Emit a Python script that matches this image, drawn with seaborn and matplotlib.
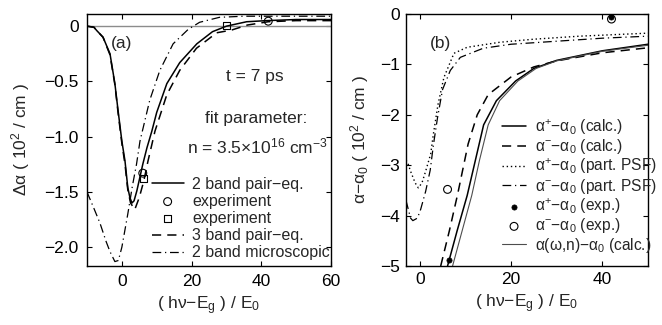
import matplotlib
matplotlib.use('Agg')
import matplotlib.pyplot as plt
import numpy as np
import seaborn as sns

# ---- panel (a) data ----
x_2band = [-10, -8, -7.2, -5.4, -3.4, -2, -1.1, 0, 0.9, 1.7, 2.3, 2.9, 3.5, 4.3, 6,
           7.2, 8.6, 10, 12.9, 16.6, 21.5, 26, 30, 35.8, 41.5, 50, 60]
y_2band = [0, -0.01, -0.04, -0.1, -0.25, -0.52, -0.76, -1.04, -1.22, -1.46, -1.55, -1.6,
           -1.58, -1.49, -1.25, -1.1, -0.95, -0.78, -0.52, -0.33, -0.16, -0.05, 0.0,
           0.04, 0.05, 0.06, 0.06]
x_3band = [-10, -8, -7.2, -5.4, -3.4, -2, -1.1, 0, 0.9, 1.7, 2.5, 3.7, 5, 6.3, 7.5,
           9.5, 12.9, 16.6, 21.4, 27.2, 31.5, 36, 42, 50, 60]
y_3band = [0, -0.01, -0.04, -0.1, -0.26, -0.53, -0.78, -1.06, -1.25, -1.48, -1.6, -1.66,
           -1.55, -1.4, -1.22, -0.95, -0.62, -0.4, -0.2, -0.06, -0.035, 0.01, 0.04,
           0.05, 0.05]
x_micro = [-10, -8, -6.3, -4.5, -3.4, -2, -1, 0, 1.7, 3, 4.2, 5.2, 8, 10.9, 14.7,
           19, 22.3, 28, 35, 45, 60]
y_micro = [-1.5, -1.65, -1.78, -1.95, -2.04, -2.13, -2.12, -2.0, -1.7, -1.45, -1.25,
           -1.04, -0.67, -0.4, -0.16, -0.03, 0.035, 0.08, 0.09, 0.09, 0.09]
x_exp_circ = [6, 42]
y_exp_circ = [-1.33, 0.045]
x_exp_sq = [6.2, 30]
y_exp_sq = [-1.38, 0.01]

# ---- panel (b) data ----
x_plus = [6.1, 8.2, 10.4, 12.2, 14, 16.8, 21, 25, 30, 40, 50]
y_plus = [-5.0, -4.3, -3.6, -2.9, -2.2, -1.72, -1.33, -1.08, -0.92, -0.73, -0.6]
x_minus = [4.6, 6.5, 8.3, 10.6, 12.6, 15, 20, 25, 30, 40, 50]
y_minus = [-5.0, -4.3, -3.58, -2.58, -2.0, -1.6, -1.25, -1.05, -0.93, -0.77, -0.67]
x_full = [7.2, 9.3, 11.4, 13.1, 15, 17.5, 21.5, 25.5, 30, 40, 50]
y_full = [-5.0, -4.3, -3.6, -2.9, -2.2, -1.72, -1.33, -1.08, -0.93, -0.74, -0.62]
x_plus_psf = [-3, -2.6, -2, -1, -0.3, 0.5, 1.3, 2.4, 3, 4, 5.3, 7.5, 10.4, 17.6, 25, 35, 50]
y_plus_psf = [-2.9, -2.96, -3.12, -3.35, -3.45, -3.35, -3.12, -2.78, -2.38, -1.8, -1.26,
              -0.78, -0.66, -0.56, -0.5, -0.44, -0.38]
x_minus_psf = [-3, -2, -1.5, -0.5, 0.2, 1.3, 2.3, 3, 3.9, 5, 6.7, 8.9, 13.9, 20, 30, 40, 50]
y_minus_psf = [-3.7, -4.05, -4.1, -4.05, -3.88, -3.52, -3.1, -2.6, -2.06, -1.5, -1.12,
               -0.86, -0.68, -0.6, -0.54, -0.48, -0.44]
x_exp_plus = [6.5, 42]
y_exp_plus = [-4.88, -0.06]
x_exp_minus = [6.1, 42]
y_exp_minus = [-3.48, -0.1]

FS = 12.5
FS_LEG = 11.5


def style_axes(ax, pad):
    for sp in ax.spines.values():
        sp.set_visible(True)
        sp.set_color('k')
        sp.set_linewidth(1.0)
    ax.tick_params(direction='in', top=True, right=True, length=3.5, width=0.8,
                   labelsize=FS, colors='k', pad=pad)


def main():
    sns.set_style('ticks')
    plt.rcParams['font.family'] = ['Liberation Sans', 'DejaVu Sans']
    plt.rcParams['mathtext.fontset'] = 'custom'
    plt.rcParams['mathtext.rm'] = 'Liberation Sans'
    plt.rcParams['mathtext.it'] = 'Liberation Sans:italic'
    plt.rcParams['mathtext.default'] = 'regular'

    fig = plt.figure(figsize=(6.62, 3.25), dpi=100)
    ax1 = fig.add_axes([87 / 662, 59 / 325, 244 / 662, 252 / 325])
    ax2 = fig.add_axes([406 / 662, 59 / 325, 242 / 662, 252 / 325])

    # ---- (a) ----
    ax1.axhline(0, color='0.55', lw=1.0, zorder=1)
    h = []
    sns.lineplot(x=x_2band, y=y_2band, ax=ax1, color='k', lw=1.1)
    h.append(ax1.lines[-1])
    sns.scatterplot(x=x_exp_circ, y=y_exp_circ, ax=ax1, marker='o', s=32,
                    facecolor='none', edgecolor='k', linewidth=0.8, zorder=5)
    h.append(ax1.collections[-1])
    sns.scatterplot(x=x_exp_sq, y=y_exp_sq, ax=ax1, marker='s', s=26,
                    facecolor='none', edgecolor='k', linewidth=0.8, zorder=5)
    h.append(ax1.collections[-1])
    sns.lineplot(x=x_3band, y=y_3band, ax=ax1, color='k', lw=1.1,
                 linestyle=(0, (6, 4)))
    h.append(ax1.lines[-1])
    sns.lineplot(x=x_micro, y=y_micro, ax=ax1, color='k', lw=0.9,
                 linestyle=(0, (7, 3, 1, 3)))
    h.append(ax1.lines[-1])
    labels_a = ['2 band pair\u2212eq.', 'experiment', 'experiment',
                '3 band pair\u2212eq.', '2 band microscopic']
    ax1.legend(h, labels_a, loc='upper left', bbox_to_anchor=(0.265, 0.355),
               frameon=False, fontsize=FS_LEG, borderpad=0, borderaxespad=0,
               handlelength=2.0, handletextpad=0.55, labelspacing=0.14)

    ax1.set_xlim(-10, 60)
    ax1.set_ylim(-2.17, 0.11)
    ax1.set_xticks([0, 20, 40, 60])
    ax1.set_xticklabels(['0', '20', '40', '60'])
    ax1.set_yticks([0, -0.5, -1.0, -1.5, -2.0])
    ax1.set_yticklabels(['0', '\u22120.5', '\u22121.0', '\u22121.5', '\u22122.0'])
    style_axes(ax1, 6)
    ax1.set_xlabel('( h\u03bd\u2212E$_\\mathrm{g}$ ) / E$_0$', fontsize=FS, labelpad=4)
    ax1.set_ylabel('\u0394\u03b1 ( 10$^2$ / cm )', fontsize=FS, labelpad=8.5)
    ax1.text(0, -0.155, '(a)', fontsize=FS, ha='center', va='center')
    ax1.text(38.1, -0.46, 't = 7 ps', fontsize=FS, ha='center', va='center')
    ax1.text(38.5, -0.84, 'fit parameter:', fontsize=FS, ha='center', va='center')
    ax1.text(39, -1.09, 'n = 3.5\u00d710$^{16}$ cm$^{\u22123}$', fontsize=FS,
             ha='center', va='center')

    # ---- (b) ----
    hb = []
    sns.lineplot(x=x_plus, y=y_plus, ax=ax2, color='k', lw=1.1)
    hb.append(ax2.lines[-1])
    sns.lineplot(x=x_minus, y=y_minus, ax=ax2, color='k', lw=1.1,
                 linestyle=(0, (6, 4)))
    hb.append(ax2.lines[-1])
    sns.lineplot(x=x_plus_psf, y=y_plus_psf, ax=ax2, color='k', lw=1.0,
                 linestyle=(0, (1, 2)))
    hb.append(ax2.lines[-1])
    sns.lineplot(x=x_minus_psf, y=y_minus_psf, ax=ax2, color='k', lw=0.9,
                 linestyle=(0, (7, 3, 1, 3)))
    hb.append(ax2.lines[-1])
    sns.scatterplot(x=x_exp_plus, y=y_exp_plus, ax=ax2, marker='o', s=14,
                    color='k', edgecolor='k', linewidth=0.5, zorder=6)
    hb.append(ax2.collections[-1])
    sns.scatterplot(x=x_exp_minus, y=y_exp_minus, ax=ax2, marker='o', s=32,
                    facecolor='none', edgecolor='k', linewidth=0.8, zorder=5)
    hb.append(ax2.collections[-1])
    sns.lineplot(x=x_full, y=y_full, ax=ax2, color='0.3', lw=0.8)
    hb.append(ax2.lines[-1])
    labels_b = ['\u03b1$^{+}$\u2212\u03b1$_0$ (calc.)',
                '\u03b1$^{\u2212}$\u2212\u03b1$_0$ (calc.)',
                '\u03b1$^{+}$\u2212\u03b1$_0$ (part. PSF)',
                '\u03b1$^{\u2212}$\u2212\u03b1$_0$ (part. PSF)',
                '\u03b1$^{+}$\u2212\u03b1$_0$ (exp.)',
                '\u03b1$^{\u2212}$\u2212\u03b1$_0$ (exp.)',
                '\u03b1(\u03c9,n)\u2212\u03b1$_0$ (calc.)']
    ax2.legend(hb, labels_b, loc='upper left', bbox_to_anchor=(0.395, 0.59),
               frameon=False, fontsize=11.2, borderpad=0, borderaxespad=0,
               handlelength=1.6, handletextpad=0.55, labelspacing=0.03)

    ax2.set_xlim(-3, 50)
    ax2.set_ylim(-5, 0)
    ax2.set_xticks([0, 20, 40])
    ax2.set_xticklabels(['0', '20', '40'])
    ax2.set_yticks([0, -1, -2, -3, -4, -5])
    ax2.set_yticklabels(['0', '\u22121', '\u22122', '\u22123', '\u22124', '\u22125'])
    style_axes(ax2, 4.5)
    ax2.set_xlabel('( h\u03bd\u2212E$_\\mathrm{g}$ ) / E$_0$', fontsize=FS, labelpad=4)
    ax2.set_ylabel('\u03b1\u2212\u03b1$_0$ ( 10$^2$ / cm )', fontsize=FS, labelpad=6.5)
    ax2.text(4.6, -0.58, '(b)', fontsize=FS, ha='center', va='center')

    fig.savefig('out.png', dpi=100)


if __name__ == '__main__':
    main()
